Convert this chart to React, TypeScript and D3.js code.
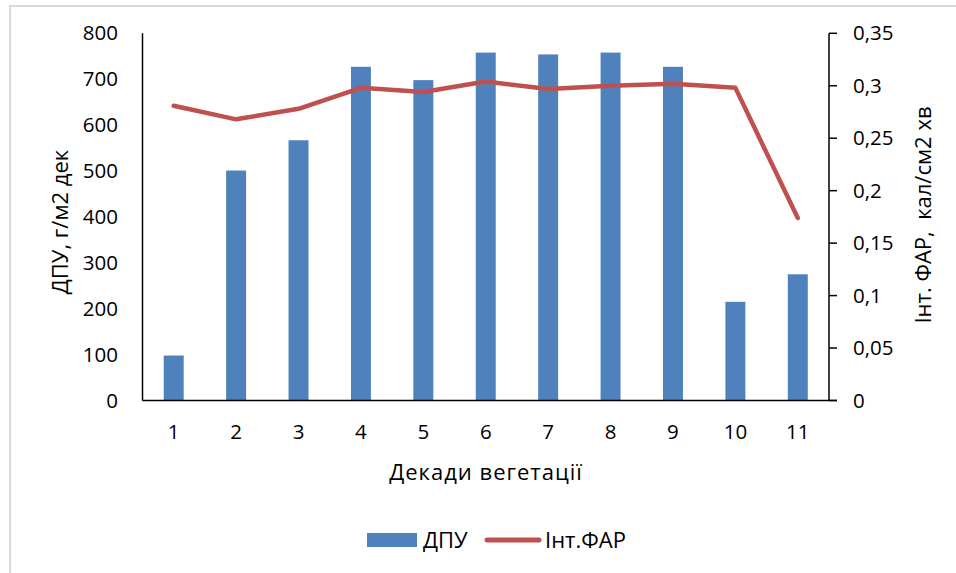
import React from "react";
import * as d3 from "d3";

const categories = ["1", "2", "3", "4", "5", "6", "7", "8", "9", "10", "11"];
const dpuValues = [98, 501, 567, 727, 698, 758, 754, 758, 727, 215, 275];
const farValues = [0.281, 0.268, 0.278, 0.298, 0.294, 0.304, 0.297, 0.3, 0.302, 0.298, 0.174];
const leftTicks = [0, 100, 200, 300, 400, 500, 600, 700, 800];
const rightTicks = [0, 0.05, 0.1, 0.15, 0.2, 0.25, 0.3, 0.35];

const W = 956;
const H = 573;
const m = { left: 142.5, right: 829, top: 33.3, bottom: 400.5 };
const FONT = "'Open Sans', 'Noto Sans', sans-serif";
const BLUE = "#4f81bd";
const RED = "#c0504d";

export default function App() {
  const x = d3.scaleBand<string>().domain(categories).range([m.left, m.right]).paddingInner(0.68).paddingOuter(0.34);
  const xc = (c: string) => (x(c) as number) + x.bandwidth() / 2;
  const yL = d3.scaleLinear().domain([0, 800]).range([m.bottom, m.top]);
  const yR = d3.scaleLinear().domain([0, 0.35]).range([m.bottom, m.top]);
  const line = d3
    .line<number>()
    .x((_, i) => xc(categories[i]))
    .y((d) => yR(d));
  const fmtR = (v: number) => (v === 0 ? "0" : String(+v.toFixed(2)).replace(".", ","));
  const fs = 20.5;
  const ft = 22;

  return (
    <svg width={W} height={H} style={{ position: "absolute", left: 0, top: 0, background: "#fff" }} fontFamily={FONT}>
      <rect x={0} y={0} width={W} height={H} fill="#fff" />
      <path d={`M10,${H + 5} L10,6 L${W + 5},6`} fill="none" stroke="#d9d9d9" strokeWidth={2} />
      {categories.map((c, i) => (
        <rect key={c} x={x(c)} y={yL(dpuValues[i])} width={x.bandwidth()} height={m.bottom - yL(dpuValues[i])} fill={BLUE} />
      ))}
      <path d={line(farValues) || ""} fill="none" stroke={RED} strokeWidth={4.5} strokeLinejoin="round" strokeLinecap="round" />
      {/* axes */}
      <line x1={m.left} x2={m.left} y1={m.top} y2={m.bottom} stroke="#000" strokeWidth={1.5} />
      <line x1={m.left} x2={837} y1={m.bottom} y2={m.bottom} stroke="#000" strokeWidth={1.5} />
      <line x1={m.right} x2={m.right} y1={m.top} y2={m.bottom} stroke="#000" strokeWidth={1.5} />
      {rightTicks.map((t) => (
        <g key={t}>
          <line x1={m.right} x2={837} y1={yR(t)} y2={yR(t)} stroke="#000" strokeWidth={1.5} />
          <text x={853} y={yR(t)} dy="0.35em" fontSize={fs} fill="#000">
            {fmtR(t)}
          </text>
        </g>
      ))}
      {leftTicks.map((t) => (
        <text key={t} x={118} y={yL(t)} dy="0.35em" fontSize={fs} textAnchor="end" fill="#000">
          {t}
        </text>
      ))}
      {categories.map((c) => (
        <text key={c} x={xc(c)} y={432} dy="0.35em" fontSize={fs} textAnchor="middle" fill="#000">
          {c}
        </text>
      ))}
      <text x={486} y={472} dy="0.35em" fontSize={ft} textAnchor="middle" fill="#000" letterSpacing={1}>
        Декади вегетації
      </text>
      <text transform={`translate(60,222) rotate(-90)`} dy="0.35em" fontSize={ft} textAnchor="middle" fill="#000">
        ДПУ, г/м2 дек
      </text>
      <text transform={`translate(923,215) rotate(-90)`} dy="0.35em" fontSize={ft} textAnchor="middle" fill="#000" style={{ whiteSpace: "pre" }}>
        {"Інт. ФАР,  кал/см2 хв"}
      </text>
      {/* legend */}
      <rect x={367} y={533} width={50} height={14} fill={BLUE} />
      <text x={423} y={540} dy="0.35em" fontSize={ft} fill="#000">
        ДПУ
      </text>
      <line x1={487} x2={539} y1={540} y2={540} stroke={RED} strokeWidth={5} strokeLinecap="round" />
      <text x={545} y={540} dy="0.35em" fontSize={ft} fill="#000">
        Інт.ФАР
      </text>
    </svg>
  );
}
